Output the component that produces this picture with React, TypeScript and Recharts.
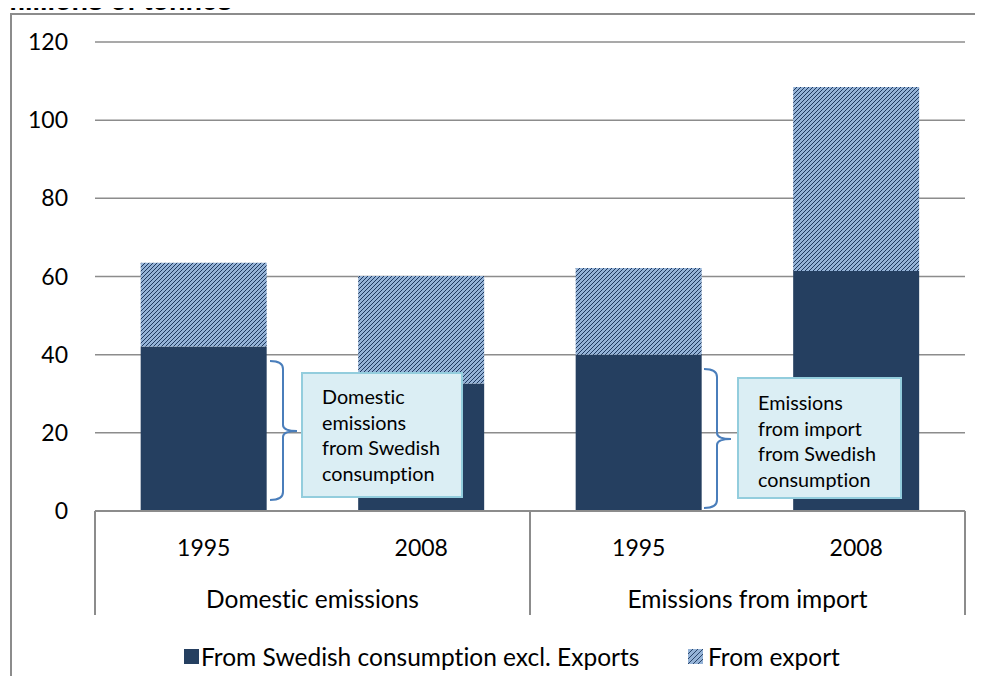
import { Bar, BarChart, CartesianGrid, XAxis, YAxis } from "recharts";

const years = ["1995", "2008", "1995", "2008"];
const groups = ["Domestic emissions", "", "Emissions from import", ""];
const swedishConsumption = [42.1, 32.6, 40.0, 61.4];
const fromExport = [21.4, 27.5, 22.2, 47.1];
const yTicks = [0, 20, 40, 60, 80, 100, 120];
const seriesNames = ["From Swedish consumption excl. Exports", "From export"];

const data = years.map((year, i) => ({
  year,
  group: groups[i],
  consumption: swedishConsumption[i],
  exports: fromExport[i],
}));

const FONT = "Lato, 'Open Sans', sans-serif";
const NO_LIGA = { fontFeatureSettings: "'liga' 0", fontVariantLigatures: "none" } as const;
const DARK = "#253f60";
const GRID = "#8c8c8c";

// plot area in page pixels
const PLOT = { left: 95, right: 965, top: 42, bottom: 511 };
const STEP = (PLOT.right - PLOT.left) / years.length;

function CategoryTick(props: any) {
  const { x, index, payload } = props;
  const cx = payload?.coordinate ?? x;
  const label = groups[index];
  return (
    <g>
      <text x={cx} y={547} textAnchor="middle" dominantBaseline="central" fontSize={23} fill="#000" fontFamily={FONT}>
        {payload.value}
      </text>
      {index % 2 === 0 && (
        <line x1={cx - STEP / 2} x2={cx - STEP / 2} y1={PLOT.bottom} y2={615} stroke={GRID} strokeWidth={2} />
      )}
      {index === years.length - 1 && (
        <line x1={cx + STEP / 2} x2={cx + STEP / 2} y1={PLOT.bottom} y2={615} stroke={GRID} strokeWidth={2} />
      )}
      {label && (
        <text
          x={cx + STEP / 2}
          y={598}
          textAnchor="middle"
          dominantBaseline="central"
          fontSize={24.5}
          fill="#000"
          fontFamily={FONT}
          style={NO_LIGA}
        >
          {label}
        </text>
      )}
    </g>
  );
}

function Brace({ x, top, mid, bottom }: { x: number; top: number; mid: number; bottom: number }) {
  const d = `M${x} ${top} Q${x + 13} ${top} ${x + 13} ${top + 8} L${x + 13} ${mid - 6} Q${x + 13} ${mid} ${x + 27} ${mid} Q${x + 13} ${mid} ${x + 13} ${mid + 6} L${x + 13} ${bottom - 8} Q${x + 13} ${bottom} ${x} ${bottom}`;
  return <path d={d} fill="none" stroke="#4a7ebb" strokeWidth={2} />;
}

const boxStyle: React.CSSProperties = {
  position: "absolute",
  background: "#dbeef4",
  border: "2px solid #93cddd",
  boxSizing: "border-box",
  fontFamily: FONT,
  fontSize: 19.8,
  lineHeight: "25.7px",
  color: "#000",
  ...NO_LIGA,
};

const legendItem: React.CSSProperties = {
  position: "absolute",
  top: 642,
  height: 28,
  display: "flex",
  alignItems: "center",
  fontFamily: FONT,
  fontSize: 24.5,
  color: "#000",
  whiteSpace: "nowrap",
  ...NO_LIGA,
};

export default function App() {
  return (
    <div
      style={{
        position: "relative",
        width: 983,
        height: 684,
        margin: -8,
        overflow: "hidden",
        background: "#fff",
      }}
    >
      <svg width={0} height={0} style={{ position: "absolute" }}>
        <defs>
          <pattern id="exportHatch" patternUnits="userSpaceOnUse" width={4} height={4}>
            <rect width={4} height={4} fill="#95b3d7" />
            <path d="M-1,1 L1,-1 M0,4 L4,0 M3,5 L5,3" stroke="#1f3a5f" strokeWidth={1} />
          </pattern>
          <pattern id="exportHatchLegend" patternUnits="userSpaceOnUse" width={5} height={5}>
            <rect width={5} height={5} fill="#95b3d7" />
            <path d="M-1,1 L1,-1 M0,5 L5,0 M4,6 L6,4" stroke="#1f3a5f" strokeWidth={0.9} />
          </pattern>
        </defs>
      </svg>

      <svg width={400} height={20} style={{ position: "absolute", left: 0, top: 0 }}>
        <text x={1} y={10} fontFamily="'Liberation Sans', Arial, sans-serif" fontWeight="bold" fontSize={27} fill="#000">
          millions of tonnes
        </text>
      </svg>

      <div
        style={{
          position: "absolute",
          left: 10,
          top: 13,
          width: 1000,
          height: 700,
          border: `2px solid ${GRID}`,
          boxSizing: "border-box",
        }}
      />

      <div style={{ position: "absolute", left: 0, top: 0 }}>
        <BarChart
          width={983}
          height={684}
          data={data}
          margin={{ top: PLOT.top, right: 983 - PLOT.right, left: 10, bottom: 684 - PLOT.bottom - 120 }}
          barCategoryGap="21%"
        >
          <CartesianGrid vertical={false} stroke={GRID} strokeWidth={1.5} />
          <XAxis
            dataKey="year"
            height={120}
            interval={0}
            tickLine={false}
            axisLine={{ stroke: GRID, strokeWidth: 2 }}
            tick={<CategoryTick />}
          />
          <YAxis
            width={PLOT.left - 10}
            domain={[0, 120]}
            ticks={yTicks}
            axisLine={false}
            tickLine={false}
            tickSize={0}
            tickMargin={27}
            tick={{ fill: "#000", fontSize: 23, fontFamily: FONT }}
          />
          <Bar dataKey="consumption" stackId="a" fill={DARK} isAnimationActive={false} />
          <Bar dataKey="exports" stackId="a" fill="url(#exportHatch)" isAnimationActive={false} />
        </BarChart>
      </div>

      <svg width={983} height={684} style={{ position: "absolute", left: 0, top: 0, pointerEvents: "none" }}>
        <Brace x={270} top={361} mid={431} bottom={500} />
        <Brace x={704} top={369} mid={439} bottom={508} />
      </svg>

      <div style={{ ...boxStyle, left: 301, top: 372, width: 162, height: 126, padding: "10px 0 0 19px" }}>
        Domestic
        <br />
        emissions
        <br />
        from Swedish
        <br />
        consumption
      </div>
      <div style={{ ...boxStyle, left: 737, top: 377, width: 165, height: 122, padding: "11px 0 0 19px" }}>
        Emissions
        <br />
        from import
        <br />
        from Swedish
        <br />
        consumption
      </div>

      <div style={{ ...legendItem, left: 184 }}>
        <svg width={15} height={15} style={{ marginRight: 2 }}>
          <rect width={15} height={15} fill={DARK} />
        </svg>
        <span>{seriesNames[0]}</span>
      </div>
      <div style={{ ...legendItem, left: 688 }}>
        <svg width={15} height={15} style={{ marginRight: 5 }}>
          <rect width={15} height={15} fill="url(#exportHatchLegend)" />
        </svg>
        <span>{seriesNames[1]}</span>
      </div>
    </div>
  );
}
